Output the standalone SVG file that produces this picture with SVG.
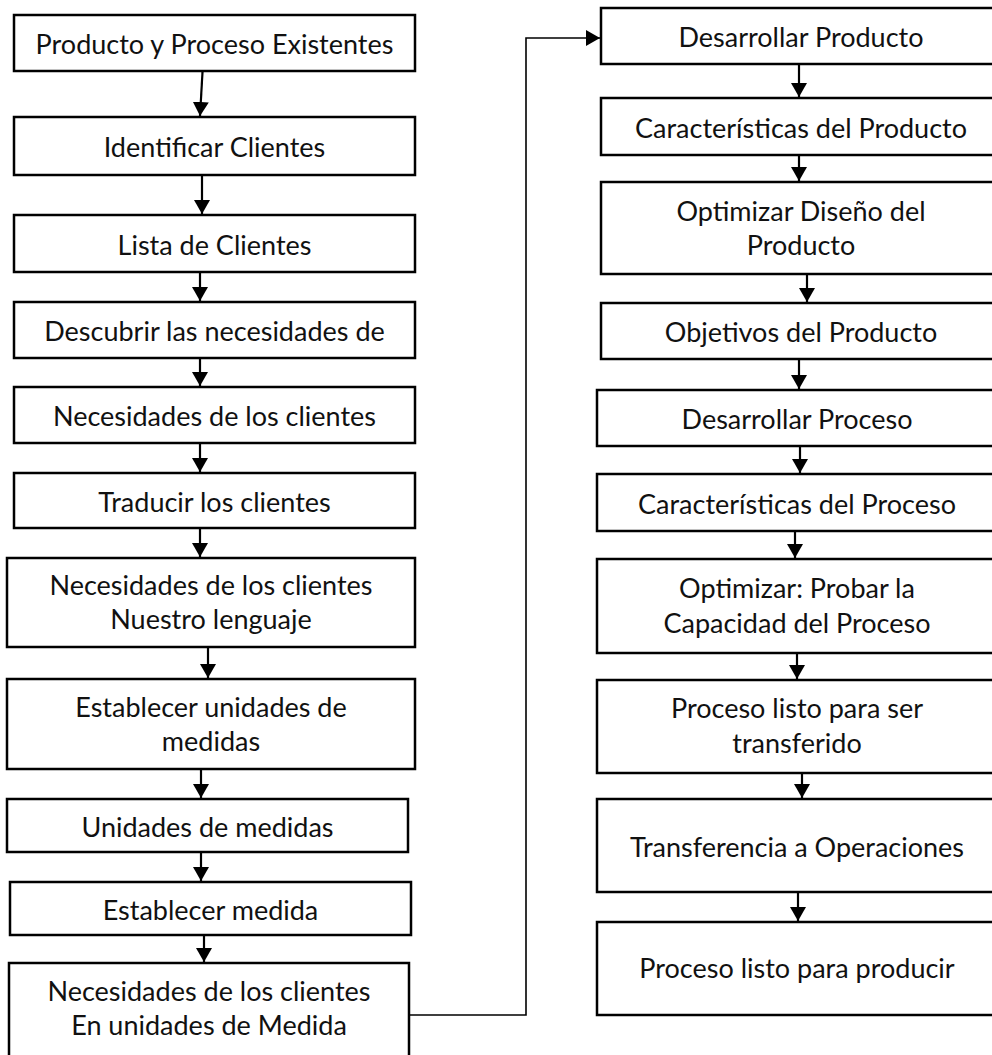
<svg xmlns="http://www.w3.org/2000/svg" width="992" height="1055" viewBox="0 0 992 1055">
  <style>
    .box { fill: #ffffff; stroke: #000000; stroke-width: 2.5; }
    .lbl { font-family: Lato, "Liberation Sans", sans-serif; font-size: 27px; fill: #111111; text-anchor: middle; }
    .flow { stroke: #000000; stroke-width: 2.2; fill: none; marker-end: url(#head); }
    .link { stroke: #000000; stroke-width: 1.6; fill: none; marker-end: url(#head); }
  </style>
  <defs>
    <marker id="head" viewBox="0 0 14 16" refX="14" refY="8" markerWidth="14" markerHeight="16" markerUnits="userSpaceOnUse" orient="auto">
      <path d="M0,0 L14,8 L0,16 z" fill="#000000"/>
    </marker>
  </defs>
  <rect width="992" height="1055" fill="#ffffff"/>

  <!-- left column -->
  <g id="n-producto-proceso-existentes">
    <rect class="box" x="14" y="15" width="401" height="56"/>
    <text class="lbl" x="214.5" y="54">Producto y Proceso Existentes</text>
  </g>
  <g id="n-identificar-clientes">
    <rect class="box" x="14" y="117" width="401" height="58"/>
    <text class="lbl" x="214.5" y="157">Identificar Clientes</text>
  </g>
  <g id="n-lista-clientes">
    <rect class="box" x="14" y="215" width="401" height="57"/>
    <text class="lbl" x="214.5" y="254.5">Lista de Clientes</text>
  </g>
  <g id="n-descubrir-necesidades">
    <rect class="box" x="14" y="302" width="401" height="56"/>
    <text class="lbl" x="214.5" y="341">Descubrir las necesidades de</text>
  </g>
  <g id="n-necesidades-clientes">
    <rect class="box" x="14" y="387" width="401" height="56"/>
    <text class="lbl" x="214.5" y="426">Necesidades de los clientes</text>
  </g>
  <g id="n-traducir-clientes">
    <rect class="box" x="14" y="473" width="401" height="55"/>
    <text class="lbl" x="214.5" y="511.5">Traducir los clientes</text>
  </g>
  <g id="n-nuestro-lenguaje">
    <rect class="box" x="7" y="558" width="408" height="89"/>
    <text class="lbl" x="211" y="595">Necesidades de los clientes</text>
    <text class="lbl" x="211" y="629">Nuestro lenguaje</text>
  </g>
  <g id="n-establecer-unidades">
    <rect class="box" x="7" y="679" width="408" height="90"/>
    <text class="lbl" x="211" y="717">Establecer unidades de</text>
    <text class="lbl" x="211" y="751">medidas</text>
  </g>
  <g id="n-unidades-medidas">
    <rect class="box" x="7" y="799" width="401" height="53"/>
    <text class="lbl" x="207.5" y="836.5">Unidades de medidas</text>
  </g>
  <g id="n-establecer-medida">
    <rect class="box" x="10" y="882" width="401" height="53"/>
    <text class="lbl" x="210.5" y="919.5">Establecer medida</text>
  </g>
  <g id="n-necesidades-medida">
    <rect class="box" x="9" y="963" width="400" height="100"/>
    <text class="lbl" x="209" y="1001">Necesidades de los clientes</text>
    <text class="lbl" x="209" y="1035">En unidades de Medida</text>
  </g>

  <!-- right column -->
  <g id="n-desarrollar-producto">
    <rect class="box" x="601" y="8" width="400" height="56"/>
    <text class="lbl" x="801" y="47">Desarrollar Producto</text>
  </g>
  <g id="n-caracteristicas-producto">
    <rect class="box" x="601" y="98" width="400" height="57"/>
    <text class="lbl" x="801" y="137.5">Características del Producto</text>
  </g>
  <g id="n-optimizar-diseno">
    <rect class="box" x="601" y="182" width="400" height="92"/>
    <text class="lbl" x="801" y="221">Optimizar Diseño del</text>
    <text class="lbl" x="801" y="255">Producto</text>
  </g>
  <g id="n-objetivos-producto">
    <rect class="box" x="601" y="303" width="400" height="56"/>
    <text class="lbl" x="801" y="342">Objetivos del Producto</text>
  </g>
  <g id="n-desarrollar-proceso">
    <rect class="box" x="597" y="390" width="400" height="56"/>
    <text class="lbl" x="797" y="429">Desarrollar Proceso</text>
  </g>
  <g id="n-caracteristicas-proceso">
    <rect class="box" x="597" y="474" width="400" height="57"/>
    <text class="lbl" x="797" y="513.5">Características del Proceso</text>
  </g>
  <g id="n-optimizar-capacidad">
    <rect class="box" x="597" y="559" width="400" height="94"/>
    <text class="lbl" x="797" y="598">Optimizar: Probar la</text>
    <text class="lbl" x="797" y="633">Capacidad del Proceso</text>
  </g>
  <g id="n-listo-transferido">
    <rect class="box" x="597" y="680" width="400" height="93"/>
    <text class="lbl" x="797" y="718">Proceso listo para ser</text>
    <text class="lbl" x="797" y="753">transferido</text>
  </g>
  <g id="n-transferencia-operaciones">
    <rect class="box" x="597" y="799" width="400" height="93"/>
    <text class="lbl" x="797" y="857">Transferencia a Operaciones</text>
  </g>
  <g id="n-listo-producir">
    <rect class="box" x="597" y="922" width="400" height="93"/>
    <text class="lbl" x="797" y="978">Proceso listo para producir</text>
  </g>

  <!-- connectors -->
  <g id="connectors">
    <path class="flow" d="M202.5,72 L200,116"/>
    <line class="flow" x1="202" y1="176" x2="202" y2="214"/>
    <line class="flow" x1="200" y1="273" x2="200" y2="301"/>
    <line class="flow" x1="200" y1="359" x2="200" y2="386"/>
    <line class="flow" x1="200" y1="444" x2="200" y2="472"/>
    <line class="flow" x1="200" y1="529" x2="200" y2="557"/>
    <line class="flow" x1="208" y1="648" x2="208" y2="678"/>
    <line class="flow" x1="201" y1="770" x2="201" y2="798"/>
    <line class="flow" x1="201" y1="853" x2="201" y2="881"/>
    <line class="flow" x1="204" y1="936" x2="204" y2="962"/>

    <polyline class="link" points="409,1015 526,1015 526,38 600,38"/>

    <line class="flow" x1="799" y1="65" x2="799" y2="97"/>
    <line class="flow" x1="799" y1="156" x2="799" y2="181"/>
    <line class="flow" x1="807" y1="275" x2="807" y2="302"/>
    <line class="flow" x1="799" y1="360" x2="799" y2="389"/>
    <line class="flow" x1="800" y1="447" x2="800" y2="473"/>
    <line class="flow" x1="795" y1="532" x2="795" y2="558"/>
    <line class="flow" x1="797" y1="654" x2="797" y2="679"/>
    <line class="flow" x1="802" y1="774" x2="802" y2="798"/>
    <line class="flow" x1="798" y1="893" x2="798" y2="921"/>
  </g>
</svg>
